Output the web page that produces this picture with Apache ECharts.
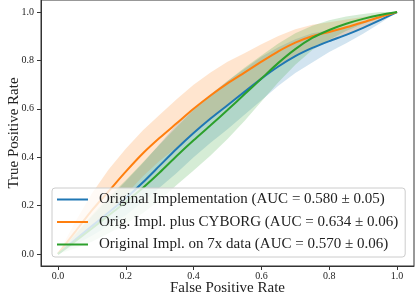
<!DOCTYPE html>
<html><head><meta charset="utf-8">
<script src="https://cdn.jsdelivr.net/npm/echarts@6/dist/echarts.min.js"></script>
<style>html,body{margin:0;padding:0;background:#fff}#c{width:415px;height:297px}</style>
</head><body><div id="c"></div>
<script>
const fpr = [0,0.05,0.1,0.15,0.2,0.25,0.3,0.35,0.4,0.45,0.5,0.55,0.6,0.65,0.7,0.75,0.8,0.85,0.9,0.95,1.0];

const blueMean   = [0,0.057,0.115,0.172,0.23,0.295,0.365,0.435,0.50,0.56,0.615,0.67,0.725,0.775,0.818,0.852,0.88,0.906,0.935,0.967,1];
const blueStd    = [0,0.02,0.04,0.055,0.07,0.08,0.09,0.10,0.10,0.10,0.10,0.095,0.09,0.08,0.07,0.06,0.045,0.035,0.025,0.013,0];

const orangeMean = [0,0.09,0.18,0.26,0.34,0.415,0.48,0.54,0.60,0.655,0.705,0.75,0.795,0.838,0.874,0.90,0.918,0.937,0.958,0.98,1];
const orangeStd  = [0,0.04,0.07,0.09,0.095,0.095,0.095,0.10,0.10,0.095,0.09,0.08,0.072,0.063,0.055,0.048,0.04,0.032,0.022,0.012,0];

const greenMean  = [0,0.052,0.105,0.16,0.215,0.273,0.337,0.405,0.47,0.532,0.595,0.66,0.725,0.79,0.847,0.893,0.926,0.952,0.972,0.988,1];
const greenStd   = [0,0.03,0.055,0.075,0.09,0.105,0.115,0.12,0.125,0.125,0.12,0.11,0.095,0.08,0.065,0.05,0.04,0.03,0.02,0.012,0];

const seriesNames = [
  'Original Implementation (AUC = 0.580 \u00b1 0.05)',
  'Orig. Impl. plus CYBORG (AUC = 0.634 \u00b1 0.06)',
  'Original Impl. on 7x data (AUC = 0.570 \u00b1 0.06)'
];
const xTicks = [0,0.2,0.4,0.6,0.8,1.0];
const yTicks = [0,0.2,0.4,0.6,0.8,1.0];
const xTitle = 'False Positive Rate';
const yTitle = 'True Positive Rate';

const colors = ['#1f77b4','#ff7f0e','#2ca02c'];
const bandColors = ['rgba(31,119,180,0.2)','rgba(255,127,14,0.2)','rgba(44,160,44,0.2)'];
const means = [blueMean, orangeMean, greenMean];
const stds = [blueStd, orangeStd, greenStd];
const FONT = 'Liberation Serif';

const series = [];
for (let i = 0; i < 3; i++) {
  const rows = fpr.map((x, k) => [x, Math.max(0, means[i][k] - stds[i][k]), Math.min(1, means[i][k] + stds[i][k])]);
  series.push({
    type: 'custom', name: 'band_' + i, silent: true, z: 1,
    encode: { x: 0, y: [1, 2] },
    data: rows,
    renderItem: function (params, api) {
      if (params.dataIndex !== 0) return null;
      const pts = [];
      for (let k = 0; k < rows.length; k++) pts.push(api.coord([rows[k][0], rows[k][2]]));
      for (let k = rows.length - 1; k >= 0; k--) pts.push(api.coord([rows[k][0], rows[k][1]]));
      return { type: 'polygon', shape: { points: pts }, style: { fill: bandColors[i], stroke: null } };
    }
  });
}
for (let i = 0; i < 3; i++) {
  series.push({
    type: 'line', name: seriesNames[i], symbol: 'none', smooth: 0.25, z: 3,
    color: colors[i], lineStyle: { color: colors[i], width: 2 },
    data: fpr.map((x, k) => [x, means[i][k]])
  });
}

const chart = echarts.init(document.getElementById('c'), null, { renderer: 'canvas' });
chart.setOption({
  animation: false,
  backgroundColor: '#fff',
  grid: { left: 41, right: 1, top: 0, bottom: 31, show: true, borderColor: '#333', borderWidth: 1,
    containLabel: false, outerBoundsMode: 'none' },
  xAxis: {
    type: 'value', min: -0.05, max: 1.05,
    splitLine: { show: false },
    axisLine: { show: true, onZero: false, lineStyle: { color: '#333', width: 1 } },
    axisTick: { show: true, length: 4, lineStyle: { color: '#333' }, customValues: xTicks },
    axisLabel: { customValues: xTicks, margin: 5, fontFamily: FONT, fontSize: 10, color: '#222',
      formatter: v => v.toFixed(1) },
    name: xTitle, nameLocation: 'middle', nameGap: 15, nameMoveOverlap: false,
    nameTextStyle: { fontFamily: FONT, fontSize: 15, color: '#222' }
  },
  yAxis: {
    type: 'value', min: -0.05, max: 1.05,
    splitLine: { show: false },
    axisLine: { show: true, onZero: false, lineStyle: { color: '#333', width: 1 } },
    axisTick: { show: true, length: 4, lineStyle: { color: '#333' }, customValues: yTicks },
    axisLabel: { customValues: yTicks, margin: 7, fontFamily: FONT, fontSize: 10, color: '#222',
      formatter: v => v.toFixed(1) },
    name: yTitle, nameLocation: 'middle', nameGap: 19, nameRotate: 90, nameMoveOverlap: false,
    nameTextStyle: { fontFamily: FONT, fontSize: 15, color: '#222' }
  },
  legend: {
    data: seriesNames, orient: 'vertical', left: 52, top: 188,
    icon: 'rect', itemWidth: 31, itemHeight: 2, itemGap: 5.5,
    backgroundColor: 'rgba(255,255,255,0.8)', borderColor: '#cccccc', borderWidth: 1, borderRadius: 3,
    padding: [3, 7, 4, 5],
    textStyle: { fontFamily: FONT, fontSize: 15, color: '#222', lineHeight: 17, padding: [0, 0, 0, 6] }
  },
  series: series
});
</script>
</body></html>
